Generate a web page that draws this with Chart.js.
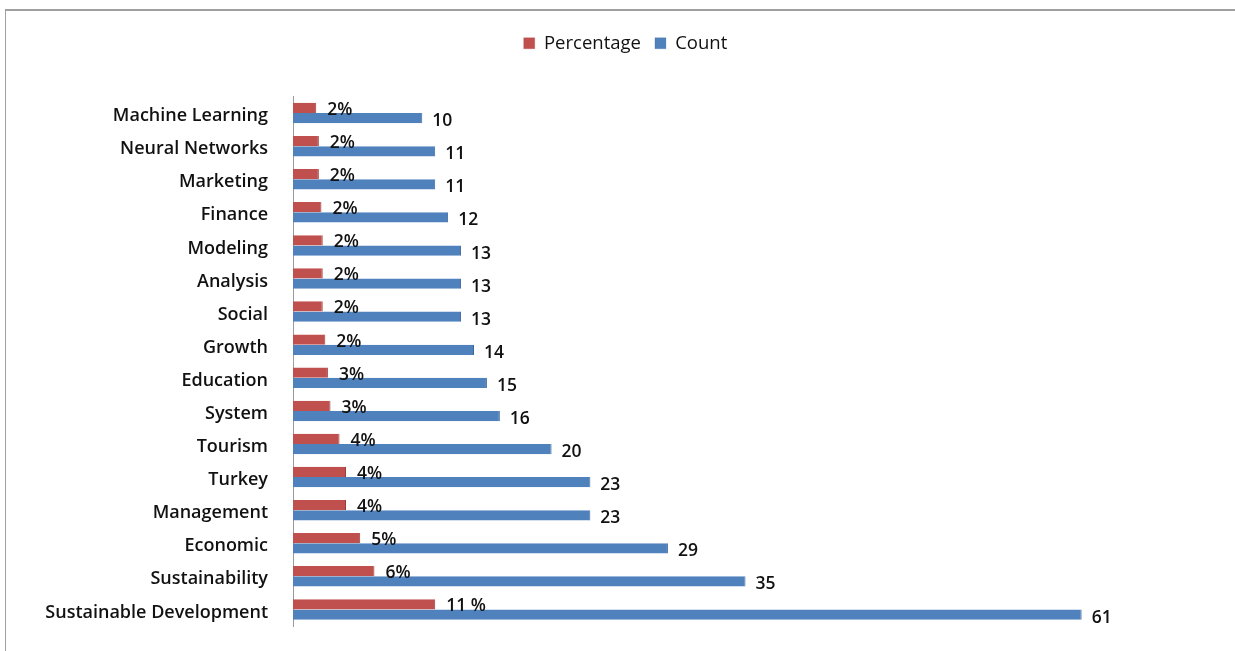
<!DOCTYPE html>
<html>
<head>
<meta charset="utf-8">
<script src="https://cdn.jsdelivr.net/npm/chart.js@4/dist/chart.umd.min.js"></script>
<style>
    body { margin: 0; background: #fff; }
    #wrap { position: absolute; left: 0; top: 0; width: 1235px; height: 651px; }
    #frame { position: absolute; left: 5px; top: 9px; width: 1230px; height: 642px;
             border-left: 1px solid #a0a0a0; border-top: 2px solid #a0a0a0; box-sizing: border-box; }
</style>
</head>
<body>
<div id="wrap">
    <div id="frame"></div>
    <canvas id="topics" width="1235" height="651"></canvas>
</div>
<script>
var aTopics = ['Machine Learning', 'Neural Networks', 'Marketing', 'Finance', 'Modeling', 'Analysis',
    'Social', 'Growth', 'Education', 'System', 'Tourism', 'Turkey', 'Management', 'Economic',
    'Sustainability', 'Sustainable Development'];
var aCounts = [10, 11, 11, 12, 13, 13, 13, 14, 15, 16, 20, 23, 23, 29, 35, 61];
var aPercent = [1.8, 2.0, 2.0, 2.2, 2.3, 2.3, 2.3, 2.5, 2.7, 2.9, 3.6, 4.1, 4.1, 5.2, 6.3, 11.0];
var aPercentLabels = ['2%', '2%', '2%', '2%', '2%', '2%', '2%', '2%', '3%', '3%', '4%', '4%', '4%', '5%', '6%', '11 %'];

// text next to each bar end
var valueLabels = {
    id: 'valueLabels',
    afterDatasetsDraw: function (chart) {
        var ctx = chart.ctx;
        ctx.save();
        ctx.font = '600 17.5px "Open Sans"';
        ctx.fillStyle = '#111';
        ctx.textBaseline = 'middle';
        ctx.textAlign = 'left';
        [1, 0].forEach(function (i) {
            chart.getDatasetMeta(i).data.forEach(function (bar, j) {
                if (i === 0) {
                    ctx.fillText(aPercentLabels[j], bar.x + 11, bar.y + 2);
                } else {
                    ctx.fillText(String(aCounts[j]), bar.x + 10, bar.y + 3);
                }
            });
        });
        ctx.restore();
    }
};

// push the plot down below the legend, nudge legend a bit right
var legendGap = {
    id: 'legendGap',
    beforeInit: function (chart) {
        var fit = chart.legend.fit;
        chart.legend.fit = function () {
            fit.bind(chart.legend)();
            this.height += 34;
        };
    },
    afterLayout: function (chart) {
        chart.legend.left += 5;
        chart.legend.right += 5;
    }
};

new Chart(document.getElementById('topics').getContext('2d'), {
    type: 'bar',
    data: {
        labels: aTopics,
        datasets: [{
            label: 'Percentage',
            data: aPercent,
            backgroundColor: '#C0504D',
            borderColor: '#9c3b38',
            borderWidth: { right: 1 },
            borderSkipped: 'start'
        }, {
            label: 'Count',
            data: aCounts,
            backgroundColor: '#4F81BD',
            borderColor: '#3c679a',
            borderWidth: { right: 1 },
            borderSkipped: 'start'
        }]
    },
    options: {
        indexAxis: 'y',
        responsive: false,
        animation: false,
        layout: { padding: { top: 20, left: 43, right: 37, bottom: 25 } },
        datasets: { bar: { categoryPercentage: 0.62, barPercentage: 1.0 } },
        scales: {
            x: { display: false, min: 0, max: 70 },
            y: {
                grid: { display: false, drawTicks: false },
                border: { display: true, color: '#9a9a9a', width: 1 },
                ticks: { color: '#111', padding: 25, labelOffset: 3, font: { family: 'Open Sans', size: 18, weight: '600' } },
                afterFit: function (scale) {
                    scale.width = 250;
                    scale.paddingTop = 0;
                    scale.paddingBottom = 0;
                }
            }
        },
        plugins: {
            legend: {
                position: 'top',
                labels: {
                    boxWidth: 11, boxHeight: 11, padding: 14, color: '#111',
                    font: { family: 'Open Sans', size: 18.5 }
                }
            },
            tooltip: { enabled: false }
        }
    },
    plugins: [valueLabels, legendGap]
});
</script>
</body>
</html>
